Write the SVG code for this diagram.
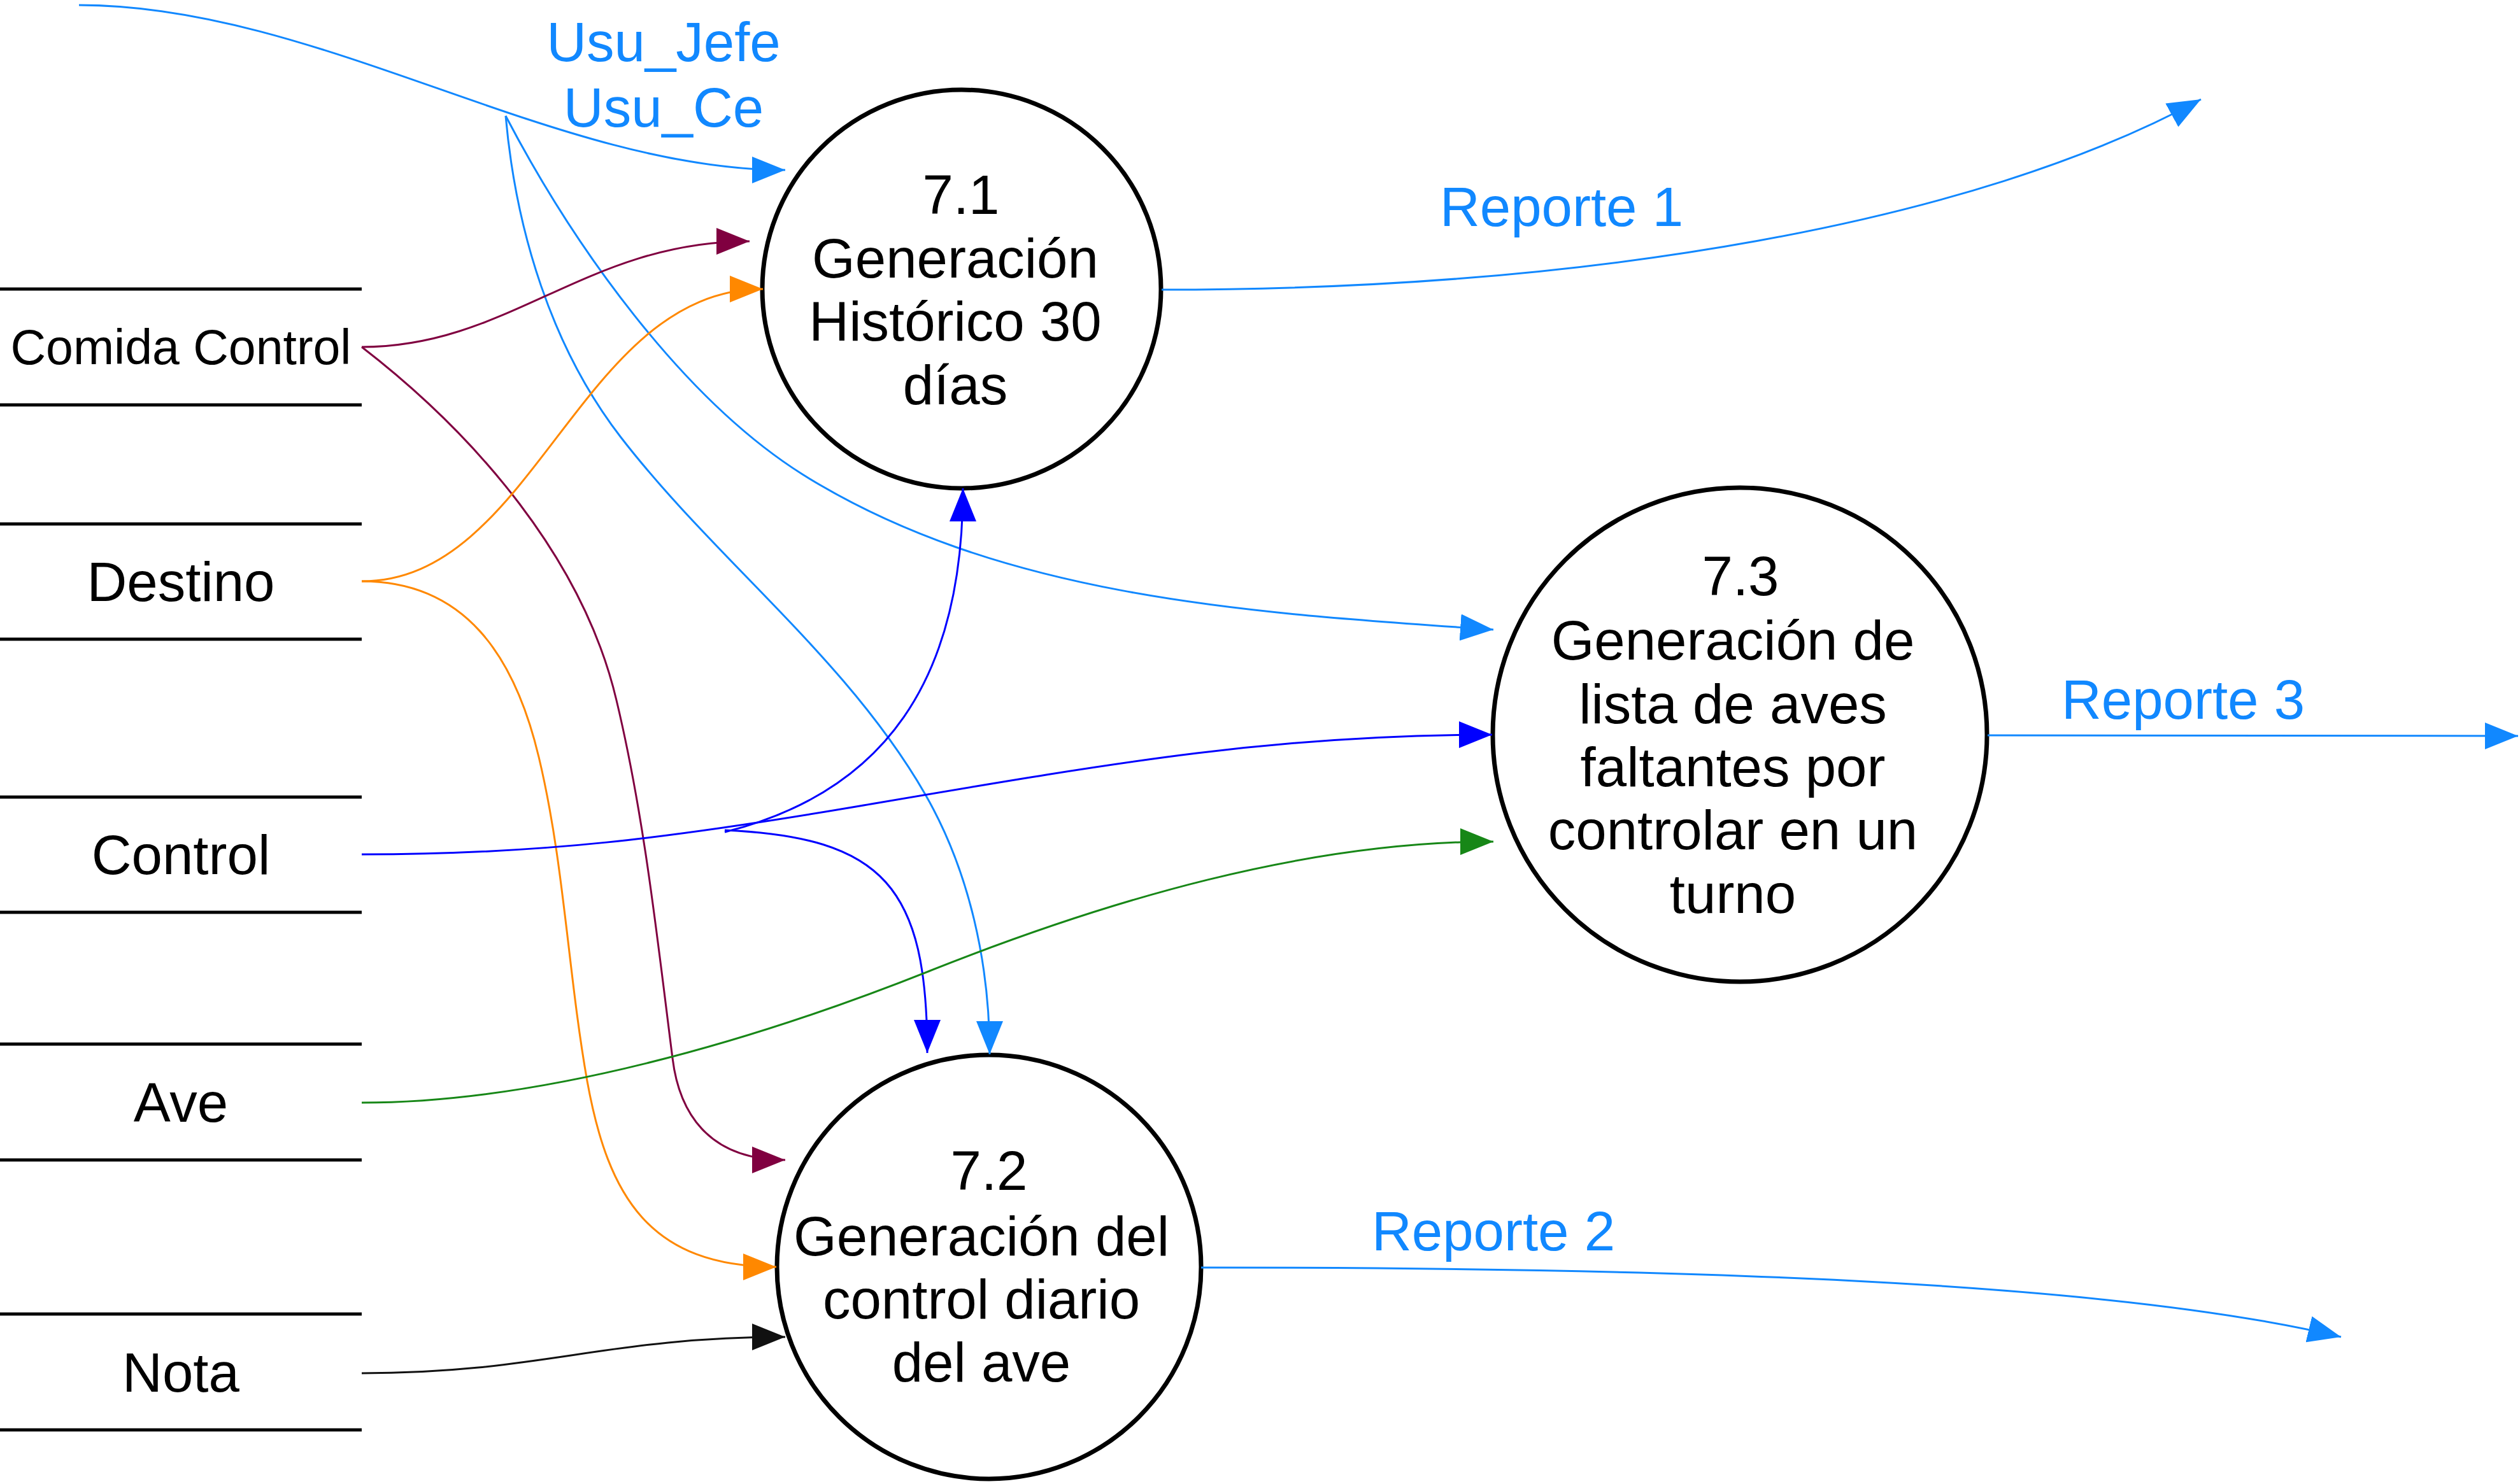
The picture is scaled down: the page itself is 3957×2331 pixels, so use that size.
<svg xmlns="http://www.w3.org/2000/svg" width="3957" height="2331" viewBox="0 0 3957 2331">
<style>
.bg{fill:#ffffff}
.store{stroke:#000;stroke-width:5;fill:none}
.proc{fill:#ffffff;stroke:#000;stroke-width:7}
.t{font-family:"Liberation Sans",Arial,sans-serif;font-size:87px;fill:#000;text-anchor:middle}
.lbl{font-family:"Liberation Sans",Arial,sans-serif;font-size:87px;fill:#1188ff;text-anchor:middle}
.c{fill:none;stroke-width:3}
.lb{stroke:#1188ff;marker-end:url(#aLB)}
.mg{stroke:#800040;marker-end:url(#aMG)}
.or{stroke:#ff8800;marker-end:url(#aOR)}
.bl{stroke:#0000ff;marker-end:url(#aBL)}
.gr{stroke:#178717;marker-end:url(#aGR)}
.bk{stroke:#111111;marker-end:url(#aBK)}
</style>
<defs>
<marker id="aLB" markerUnits="userSpaceOnUse" markerWidth="52" markerHeight="42" viewBox="0 0 52 42" refX="52" refY="21" orient="auto"><path d="M0,0 L52,21 L0,42 Z" fill="#1188ff"/></marker>
<marker id="aMG" markerUnits="userSpaceOnUse" markerWidth="52" markerHeight="42" viewBox="0 0 52 42" refX="52" refY="21" orient="auto"><path d="M0,0 L52,21 L0,42 Z" fill="#800040"/></marker>
<marker id="aOR" markerUnits="userSpaceOnUse" markerWidth="52" markerHeight="42" viewBox="0 0 52 42" refX="52" refY="21" orient="auto"><path d="M0,0 L52,21 L0,42 Z" fill="#ff8800"/></marker>
<marker id="aBL" markerUnits="userSpaceOnUse" markerWidth="52" markerHeight="42" viewBox="0 0 52 42" refX="52" refY="21" orient="auto"><path d="M0,0 L52,21 L0,42 Z" fill="#0000ff"/></marker>
<marker id="aGR" markerUnits="userSpaceOnUse" markerWidth="52" markerHeight="42" viewBox="0 0 52 42" refX="52" refY="21" orient="auto"><path d="M0,0 L52,21 L0,42 Z" fill="#178717"/></marker>
<marker id="aBK" markerUnits="userSpaceOnUse" markerWidth="52" markerHeight="42" viewBox="0 0 52 42" refX="52" refY="21" orient="auto"><path d="M0,0 L52,21 L0,42 Z" fill="#111111"/></marker>
</defs>
<rect class="bg" x="0" y="0" width="3957" height="2331"/>

<g id="store-comida-control">
<line class="store" x1="0" y1="454" x2="568" y2="454"/>
<line class="store" x1="0" y1="636" x2="568" y2="636"/>
<text class="t" x="284" y="572" style="font-size:77px">Comida Control</text>
</g>
<g id="store-destino">
<line class="store" x1="0" y1="823" x2="568" y2="823"/>
<line class="store" x1="0" y1="1004" x2="568" y2="1004"/>
<text class="t" x="284" y="944">Destino</text>
</g>
<g id="store-control">
<line class="store" x1="0" y1="1252" x2="568" y2="1252"/>
<line class="store" x1="0" y1="1433" x2="568" y2="1433"/>
<text class="t" x="284" y="1373">Control</text>
</g>
<g id="store-ave">
<line class="store" x1="0" y1="1640" x2="568" y2="1640"/>
<line class="store" x1="0" y1="1822" x2="568" y2="1822"/>
<text class="t" x="284" y="1762">Ave</text>
</g>
<g id="store-nota">
<line class="store" x1="0" y1="2064" x2="568" y2="2064"/>
<line class="store" x1="0" y1="2246" x2="568" y2="2246"/>
<text class="t" x="284" y="2186">Nota</text>
</g>

<g id="proc-7-1">
<circle class="proc" cx="1510" cy="454" r="313"/>
<text class="t" x="1509" y="336">7.1</text>
<text class="t" x="1500" y="436">Generación</text>
<text class="t" x="1500" y="535">Histórico 30</text>
<text class="t" x="1500" y="635">días</text>
</g>
<g id="proc-7-2">
<circle class="proc" cx="1553" cy="1990" r="333"/>
<text class="t" x="1553" y="1869">7.2</text>
<text class="t" x="1541" y="1972">Generación del</text>
<text class="t" x="1541" y="2071">control diario</text>
<text class="t" x="1541" y="2170">del ave</text>
</g>
<g id="proc-7-3">
<circle class="proc" cx="2732" cy="1154" r="388"/>
<text class="t" x="2733" y="935">7.3</text>
<text class="t" x="2721" y="1036">Generación de</text>
<text class="t" x="2721" y="1136">lista de aves</text>
<text class="t" x="2721" y="1235">faltantes por</text>
<text class="t" x="2721" y="1334">controlar en un</text>
<text class="t" x="2721" y="1434">turno</text>
</g>

<g id="connectors">
<path class="c lb" d="M124,8 C500,8 870,267 1233,267"/>
<path class="c lb" d="M794,182 C900,385 1070,625 1260,745 C1575,942 1974,963 2345,989"/>
<path class="c lb" d="M794,182 C810,362 866,546 975,687 C1125,881 1330,1034 1453,1248 C1523,1370 1554,1516 1554,1656"/>
<path class="c mg" d="M568,545 C800,545 920,379 1177,379"/>
<path class="c mg" d="M568,545 C748,684 916,879 968,1100 C1012,1284 1032,1474 1056,1662 C1066,1745 1110,1822 1233,1822"/>
<path class="c or" d="M568,913 C840,913 910,454 1198,454"/>
<path class="c or" d="M568,913 C730,913 808,1030 846,1189 C886,1356 892,1529 922,1698 C955,1880 1020,1990 1219,1990"/>
<path class="c bl" d="M568,1342 C850,1342 1050,1317 1350,1266 C1750,1198 2000,1154 2343,1154"/>
<path class="c bl" d="M1138,1307 C1390,1244 1512,1067 1512,767"/>
<path class="c bl" d="M1138,1304 C1388,1315 1456,1394 1456,1654"/>
<path class="c gr" d="M568,1732 C850,1732 1181,1636 1460,1525 C1739,1414 2050,1322 2345,1322"/>
<path class="c bk" d="M568,2157 C850,2157 950,2100 1233,2100"/>
<path class="c lb" d="M1824,455 C2500,455 3100,350 3456,156"/>
<path class="c lb" d="M1886,1991 C2600,1991 3300,2010 3676,2100"/>
<path class="c lb" d="M3121,1155 L3954,1156"/>
<text class="lbl" x="1042" y="96">Usu_Jefe</text>
<text class="lbl" x="1042" y="199">Usu_Ce</text>
<text class="lbl" x="2452" y="355">Reporte 1</text>
<text class="lbl" x="2345" y="1964">Reporte 2</text>
<text class="lbl" x="3428" y="1129">Reporte 3</text>
</g>
</svg>
